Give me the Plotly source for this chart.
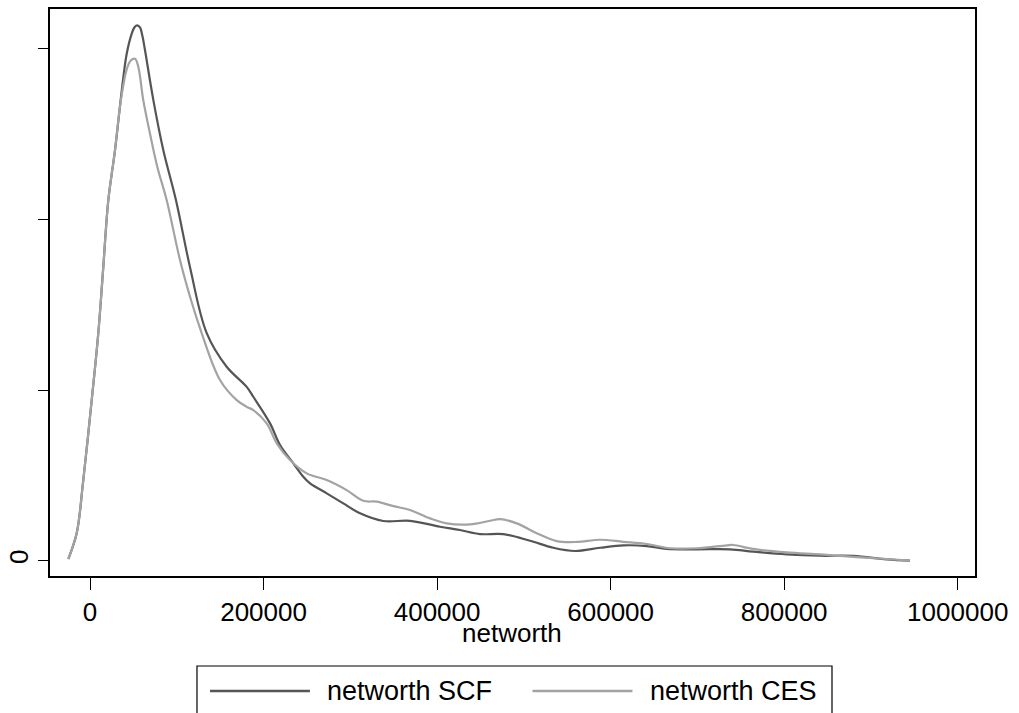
import plotly.graph_objects as go

# Kernel density estimates (y in units of 1e-6)
scf_x = [-25000, -15300, -8100, 1960, 9570, 15300, 21100, 28800, 34000, 38000, 42300, 48100,
         51300, 54500, 57600, 60500, 63400, 73000, 84500, 99100, 115200, 134500, 157500,
         180600, 188200, 207500, 219000, 234300, 245800, 253600, 272800, 291900, 311200,
         338000, 368800, 403400, 426400, 449500, 476300, 507100, 533900, 559000, 587800,
         614600, 641600, 664600, 699200, 737600, 764400, 802900, 841300, 879700, 918200,
         945000]
scf_y = [0.01, 0.162, 0.455, 0.941, 1.334, 1.721, 2.113, 2.406, 2.640, 2.816, 2.972, 3.090,
         3.127, 3.138, 3.126, 3.074, 2.992, 2.700, 2.406, 2.113, 1.722, 1.334, 1.137,
         1.019, 0.961, 0.805, 0.678, 0.571, 0.492, 0.453, 0.395, 0.336, 0.278,
         0.233, 0.234, 0.199, 0.180, 0.156, 0.156, 0.117, 0.076, 0.057, 0.076,
         0.090, 0.086, 0.069, 0.067, 0.067, 0.053, 0.037, 0.029, 0.028, 0.008,
         0.0]

ces_x = [-25000, -15300, -8100, 1960, 9570, 15300, 21100, 28800, 34000, 38500, 42300, 46700,
         51900, 55700, 61400, 69100, 77600, 88400, 105700, 128700, 149800, 169100, 180600,
         188200, 203600, 215200, 230500, 249700, 272800, 295800, 315000, 330400, 349600,
         368800, 391900, 411100, 437900, 461000, 472500, 491800, 514800, 537900, 560900,
         587800, 614600, 641600, 668500, 699200, 733800, 741400, 764400, 802900, 841300,
         879700, 918200, 945000]
ces_y = [0.01, 0.162, 0.455, 0.941, 1.334, 1.721, 2.113, 2.406, 2.640, 2.790, 2.880, 2.931,
         2.942, 2.894, 2.700, 2.504, 2.308, 2.113, 1.722, 1.334, 1.059, 0.941, 0.902,
         0.883, 0.805, 0.688, 0.590, 0.512, 0.473, 0.414, 0.351, 0.346, 0.320,
         0.297, 0.248, 0.219, 0.213, 0.234, 0.244, 0.219, 0.161, 0.115, 0.110,
         0.123, 0.111, 0.098, 0.073, 0.073, 0.090, 0.092, 0.069, 0.049, 0.037,
         0.023, 0.010, 0.0]

x_ticks = [0, 200000, 400000, 600000, 800000, 1000000]
x_labels = ["0", "200000", "400000", "600000", "800000", "1000000"]
y_ticks = [0, 1, 2, 3]
y_labels = ["0", "", "", ""]

series_names = ["networth SCF", "networth CES"]
series_colors = ["#555555", "#a3a3a3"]

FONT = "Liberation Sans, Arial, Helvetica, sans-serif"

fig = go.Figure()
fig.add_trace(go.Scatter(x=scf_x, y=scf_y, mode="lines", name=series_names[0],
                         line=dict(color=series_colors[0], width=2.2, shape="spline", smoothing=1.0)))
fig.add_trace(go.Scatter(x=ces_x, y=ces_y, mode="lines", name=series_names[1],
                         line=dict(color=series_colors[1], width=2.2, shape="spline", smoothing=1.0)))

fig.update_layout(
    width=1019, height=713,
    margin=dict(l=50, r=44, t=9, b=137, autoexpand=False),
    paper_bgcolor="white", plot_bgcolor="white",
    showlegend=False,
    font=dict(family=FONT, color="black", size=26),
    xaxis=dict(range=[-46100, 1019900], tickvals=x_ticks, ticktext=x_labels,
               ticks="outside", ticklen=12, tickwidth=1.3, tickcolor="black",
               showline=True, linecolor="black", linewidth=1.5, mirror=True,
               showgrid=False, zeroline=False, tickfont=dict(size=26), automargin=False),
    yaxis=dict(range=[-0.0896, 3.234], tickvals=y_ticks, ticktext=y_labels,
               ticks="outside", ticklen=10, tickwidth=1.3, tickcolor="black",
               showline=True, linecolor="black", linewidth=1.5, mirror=True,
               showgrid=False, zeroline=False, tickangle=-90, tickfont=dict(size=26),
               automargin=False),
)

# x-axis title
fig.add_annotation(text="networth", xref="paper", yref="paper", x=0.4995, y=-0.1005,
                   xanchor="center", yanchor="middle", showarrow=False,
                   font=dict(size=26, family=FONT, color="black"))

# custom legend box
fig.add_shape(type="rect", xref="paper", yref="paper", x0=0.1589, x1=0.8454, y0=-0.26, y1=-0.1587,
              line=dict(color="black", width=1.2), fillcolor="white", layer="above")
legend_line_x = [(0.173, 0.281), (0.5216, 0.6297)]
legend_text_x = [0.2973, 0.6465]
for i in range(2):
    fig.add_shape(type="line", xref="paper", yref="paper", x0=legend_line_x[i][0], x1=legend_line_x[i][1],
                  y0=-0.2028, y1=-0.2028, line=dict(color=series_colors[i], width=2.5))
    fig.add_annotation(text=series_names[i], xref="paper", yref="paper", x=legend_text_x[i], y=-0.2028,
                       xanchor="left", yanchor="middle", showarrow=False,
                       font=dict(size=27, family=FONT, color="black"))

fig.write_html("out.html", config={"displayModeBar": False},
               post_script="document.body.style.margin='0px';document.body.style.padding='0px';")
